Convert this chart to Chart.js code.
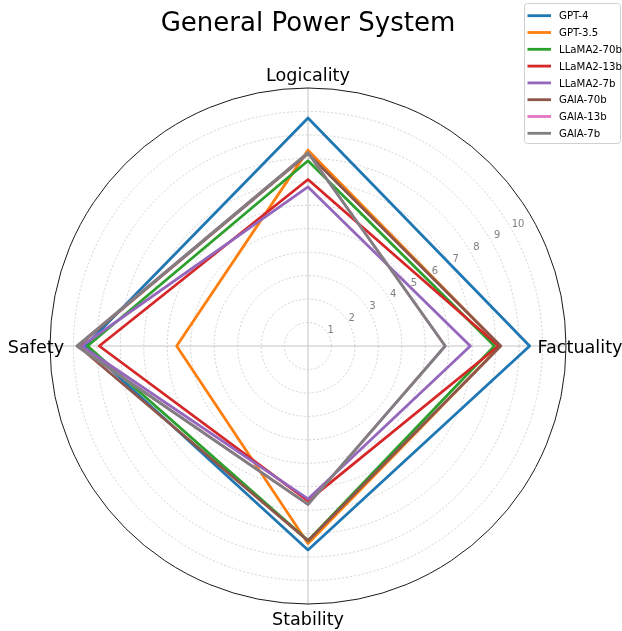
<!DOCTYPE html>
<html>
<head>
<meta charset="utf-8">
<script src="https://cdn.jsdelivr.net/npm/chart.js@4/dist/chart.umd.min.js"></script>
<style>
  html, body { margin: 0; padding: 0; background: #ffffff; }
  #wrap { width: 622px; height: 631px; }
</style>
</head>
<body>
<div id="wrap"><canvas id="c" width="622" height="631"></canvas></div>
<script>
// ---- data ----
const chartTitle = 'General Power System';
const categories = ['Logicality', 'Factuality', 'Stability', 'Safety'];
const seriesNames = ['GPT-4', 'GPT-3.5', 'LLaMA2-70b', 'LLaMA2-13b', 'LLaMA2-7b', 'GAIA-70b', 'GAIA-13b', 'GAIA-7b'];
const gpt4 = [9.72, 9.45, 8.7, 9.5];
const gpt35 = [8.35, 8.2, 8.42, 5.6];
const llama70b = [7.9, 7.95, 8.3, 9.4];
const llama13b = [7.1, 8.12, 6.6, 8.9];
const llama7b = [6.78, 6.92, 6.52, 9.65];
const gaia70b = [8.2, 8.22, 8.3, 9.8];
const gaia13b = [8.24, 5.85, 6.75, 9.85];
const gaia7b = [8.24, 5.85, 6.75, 9.85];
const tickLabels = ['1', '2', '3', '4', '5', '6', '7', '8', '9', '10'];
const scaleMax = 11;
const colors = ['#1f77b4', '#ff7f0e', '#2ca02c', '#d62728', '#9467bd', '#8c564b', '#e377c2', '#7f7f7f'];

const seriesValues = [gpt4, gpt35, llama70b, llama13b, llama7b, gaia70b, gaia13b, gaia7b];
const FONT = '"DejaVu Sans", sans-serif';

const datasets = seriesNames.map((name, i) => ({
  label: name,
  data: seriesValues[i],
  borderColor: colors[i],
  backgroundColor: colors[i],
  borderWidth: 2.8,
  borderJoinStyle: 'round',
  fill: false,
  pointRadius: 0,
  pointHoverRadius: 0,
  order: seriesNames.length - 1 - i
}));

const decorPlugin = {
  id: 'decor',
  beforeDatasetsDraw(chart) {
    const ctx = chart.ctx;
    const s = chart.scales.r;
    ctx.save();
    // radial tick labels
    ctx.font = '10px ' + FONT;
    ctx.fillStyle = '#808080';
    ctx.textAlign = 'center';
    ctx.textBaseline = 'middle';
    tickLabels.forEach(t => {
      const d = s.getDistanceFromCenterForValue(Number(t));
      ctx.fillText(t, s.xCenter + 2 + d * 0.887, s.yCenter - 4 - d * 0.503);
    });
    ctx.restore();
  },
  afterDraw(chart) {
    const ctx = chart.ctx;
    const s = chart.scales.r;
    ctx.save();
    // outer circle
    ctx.beginPath();
    ctx.strokeStyle = '#000000';
    ctx.lineWidth = 0.9;
    ctx.arc(s.xCenter, s.yCenter, s.getDistanceFromCenterForValue(scaleMax), 0, Math.PI * 2);
    ctx.stroke();
    // title
    ctx.fillStyle = '#000000';
    ctx.font = '26px ' + FONT;
    ctx.textAlign = 'center';
    ctx.textBaseline = 'middle';
    ctx.fillText(chartTitle, 308, 24);
    // point labels
    ctx.font = '17.6px ' + FONT;
    const rl = s.getDistanceFromCenterForValue(scaleMax) + 14;
    categories.forEach((c, i) => {
      const p = s.getPointPosition(i, rl);
      ctx.fillText(c, p.x, p.y + 2);
    });
    // legend
    const lx = 524.5, ly = 3.5, lw = 96, lh = 140;
    ctx.beginPath();
    ctx.fillStyle = 'rgba(255,255,255,0.8)';
    ctx.strokeStyle = '#d0d0d0';
    ctx.lineWidth = 1;
    if (ctx.roundRect) { ctx.roundRect(lx, ly, lw, lh, 3); } else { ctx.rect(lx, ly, lw, lh); }
    ctx.fill();
    ctx.stroke();
    ctx.font = '10.2px ' + FONT;
    ctx.textAlign = 'left';
    ctx.textBaseline = 'middle';
    seriesNames.forEach((n, i) => {
      const y = 15.7 + i * 16.8;
      ctx.beginPath();
      ctx.strokeStyle = colors[i];
      ctx.lineWidth = 2.8;
      ctx.moveTo(527.5, y);
      ctx.lineTo(551, y);
      ctx.stroke();
      ctx.fillStyle = '#000000';
      ctx.fillText(n, 559, y + 1);
    });
    ctx.restore();
  }
};

new Chart(document.getElementById('c'), {
  type: 'radar',
  data: { labels: categories, datasets: datasets },
  options: {
    responsive: false,
    animation: false,
    devicePixelRatio: 1,
    layout: { padding: { left: 50, right: 56, top: 88, bottom: 27 } },
    plugins: {
      legend: { display: false },
      title: { display: false },
      tooltip: { enabled: false }
    },
    elements: { line: { tension: 0 } },
    scales: {
      r: {
        min: 0,
        max: scaleMax,
        ticks: { display: false, stepSize: 1 },
        pointLabels: { display: false },
        grid: {
          circular: true,
          color: (c) => (c.tick && c.tick.value === scaleMax) ? 'rgba(0,0,0,0)' : '#c8c8c8',
          lineWidth: 0.8
        },
        border: { dash: [2, 2] },
        angleLines: { color: '#c4c4c4', lineWidth: 1 }
      }
    }
  },
  plugins: [decorPlugin]
});
</script>
</body>
</html>
